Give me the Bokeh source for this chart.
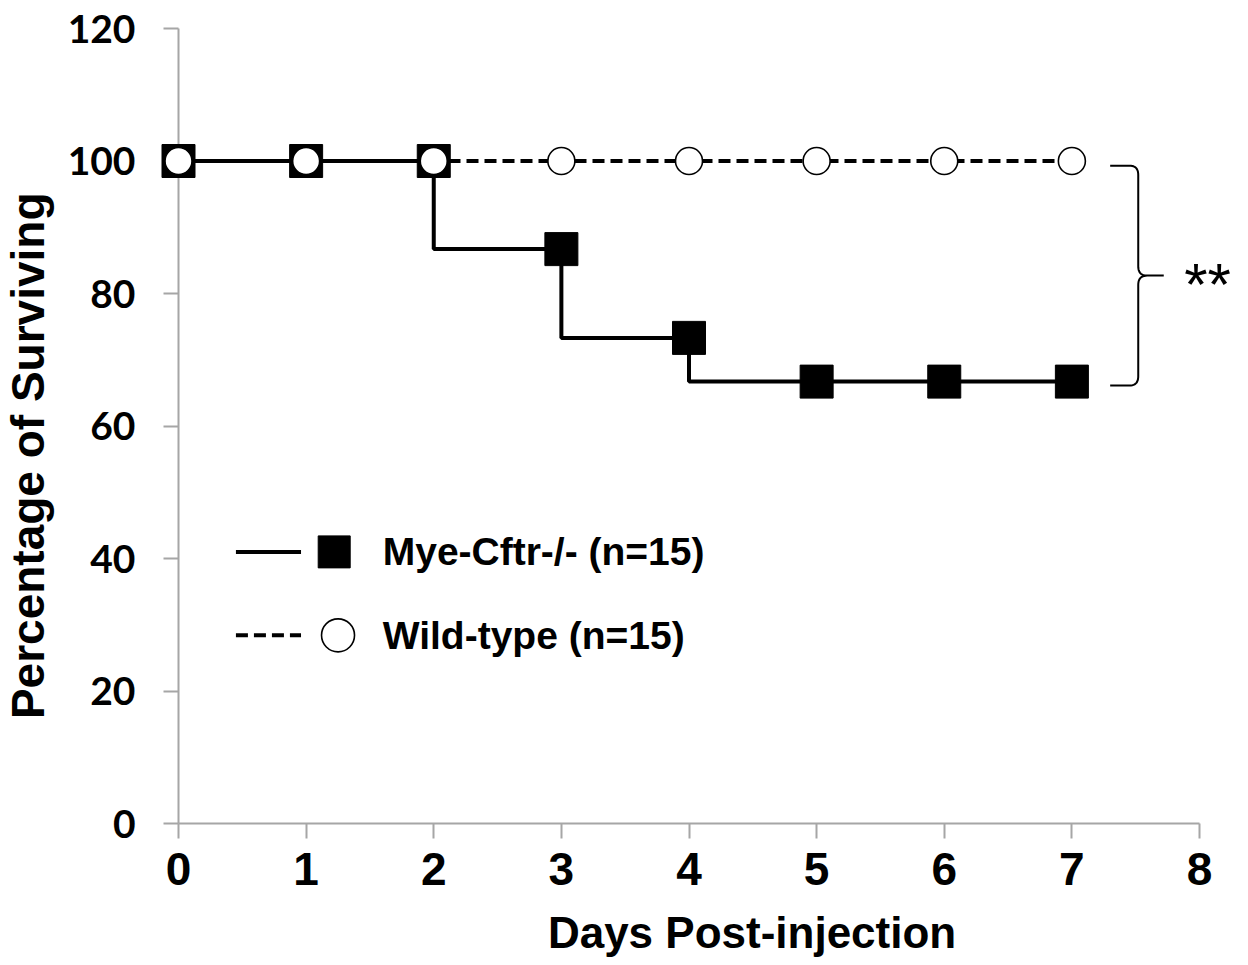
import numpy as np
from bokeh.plotting import figure
from bokeh.models import FixedTicker, Range1d
from bokeh.core.properties import value
from bokeh.embed import file_html
from bokeh.resources import INLINE

# ---- data ----
days = [0, 1, 2, 3, 4, 5, 6, 7]
mye_cftr = [100, 100, 100, 86.7, 73.3, 66.7, 66.7, 66.7]
wild_type = [100, 100, 100, 100, 100, 100, 100, 100]
x_ticks = [0, 1, 2, 3, 4, 5, 6, 7, 8]
y_ticks = [0, 20, 40, 60, 80, 100, 120]
series_labels = ["Mye-Cftr-/- (n=15)", "Wild-type (n=15)"]
x_title = "Days Post-injection"
y_title = "Percentage of Surviving"
significance = "**"

AX = "#a6a6a6"
SANS = value("Liberation Sans")

p = figure(width=1240, height=957, x_range=Range1d(0, 8), y_range=Range1d(0, 120),
           output_backend="svg", toolbar_location=None,
           min_border_left=178, min_border_right=41, min_border_top=28, min_border_bottom=134)
p.grid.visible = False
p.outline_line_color = None
p.background_fill_color = "white"
p.border_fill_color = "white"

# axes
p.xaxis.ticker = FixedTicker(ticks=x_ticks)
p.yaxis.ticker = FixedTicker(ticks=y_ticks)
for ax in (p.xaxis, p.yaxis):
    ax.axis_line_color = AX
    ax.axis_line_width = 2
    ax.major_tick_line_color = AX
    ax.major_tick_line_width = 2
    ax.major_tick_out = 15
    ax.major_tick_in = 0
    ax.minor_tick_line_color = None
    ax.major_label_text_font_style = "bold"
    ax.major_label_text_color = "black"
p.xaxis.major_label_text_font = "Liberation Sans"
p.xaxis.major_label_text_font_size = "46px"
p.xaxis.major_label_standoff = 14
p.yaxis.major_label_text_font = "Lato"
p.yaxis.major_label_text_font_size = "39px"
p.yaxis.major_label_standoff = 28

# axis titles (placed as text so they can sit off-centre like the reference)
p.text([4.494], [-16.45], text=[x_title], text_align="center", text_baseline="middle",
       text_font=SANS, text_font_style="bold", text_font_size="44px", text_color="black",
       level="overlay")
p.text([-1.176], [55.5], text=[y_title], angle=np.pi / 2, text_align="center",
       text_baseline="middle", text_font=SANS, text_font_style="bold",
       text_font_size="46px", text_color="black", level="overlay")

# series lines (under the markers)
p.line(days, wild_type, line_dash="12 6", line_width=4, line_color="black", level="overlay")
p.step(days, mye_cftr, mode="before", line_width=4, line_color="black", level="overlay")

# markers
p.scatter(days, mye_cftr, marker="square", size=33, fill_color="black", line_color="black",
          level="overlay")
p.scatter(days, wild_type, marker="circle", size=27, fill_color="white", line_color="black",
          line_width=1.6, level="overlay")

# legend (drawn manually)
leg_y = [41.0, 28.4]
p.line([0.45, 0.96], [leg_y[0], leg_y[0]], line_width=4, line_color="black", level="overlay")
p.scatter([1.22], [leg_y[0]], marker="square", size=32, fill_color="black", line_color="black",
          level="overlay")
p.line([0.45, 0.96], [leg_y[1], leg_y[1]], line_dash="12 6", line_width=4, line_color="black",
       level="overlay")
p.scatter([1.25], [leg_y[1]], marker="circle", size=33, fill_color="white", line_color="black",
          line_width=1.6, level="overlay")
p.text([1.60, 1.60], leg_y, text=series_labels, text_font=SANS, text_font_style="bold",
       text_font_size="39px", text_baseline="middle", text_align="left", text_color="black",
       level="overlay")

# significance brace
def quad(p0, c, p1, n=12):
    t = np.linspace(0, 1, n)
    xs = (1 - t) ** 2 * p0[0] + 2 * (1 - t) * t * c[0] + t ** 2 * p1[0]
    ys = (1 - t) ** 2 * p0[1] + 2 * (1 - t) * t * c[1] + t ** 2 * p1[1]
    return list(xs), list(ys)

top = wild_type[-1] - 0.7
bot = mye_cftr[-1] - 0.6
mid = (top + bot) / 2
xa, xv, xt = 7.30, 7.52, 7.72
rx, ry = 0.07, 1.4
bx, by = [xa], [top]
for seg in (quad((xv - rx, top), (xv, top), (xv, top - ry)),
            quad((xv, mid + ry), (xv, mid), (xv + rx, mid)),
            ([xt], [mid]),
            quad((xv + rx, mid), (xv, mid), (xv, mid - ry)),
            quad((xv, bot + ry), (xv, bot), (xv - rx, bot)),
            ([xa], [bot])):
    bx += seg[0]
    by += seg[1]
p.line(bx, by, line_width=2, line_color="black", level="overlay")
p.text([7.88], [mid], text=[significance], text_font=SANS,
       text_font_size="60px", text_baseline="alphabetic", text_align="left",
       y_offset=9, text_color="black", level="overlay")

open("out.html", "w").write(file_html(p, INLINE))
